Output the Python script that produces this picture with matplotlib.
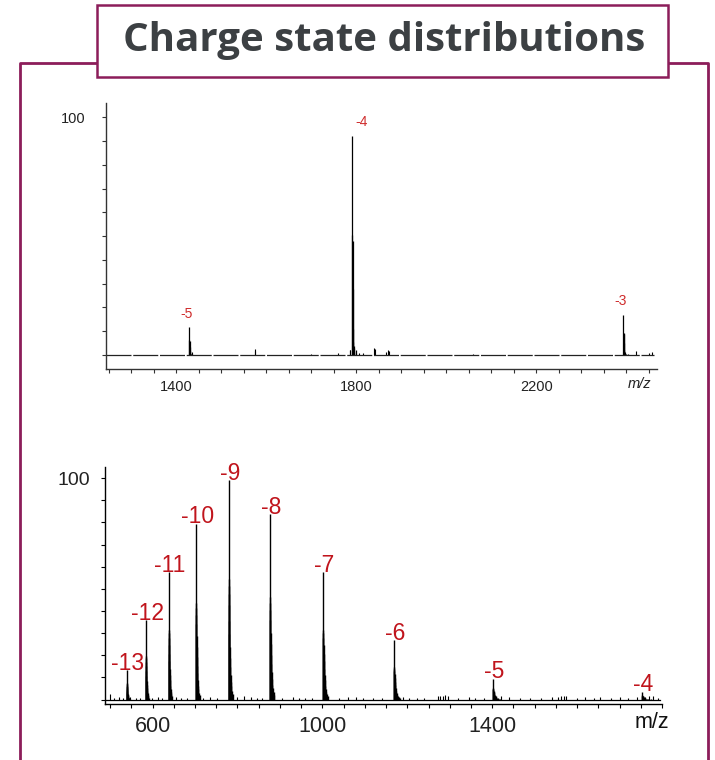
import numpy as np
import matplotlib
matplotlib.use("Agg")
import matplotlib.pyplot as plt
from matplotlib.lines import Line2D
from matplotlib.patches import Rectangle
from matplotlib.ticker import MultipleLocator, FixedLocator

# --- top spectrum (native) ---
top_charges = ["-5", "-4", "-3"]
top_mz = [1429, 1791, 2393]
top_height = [11.5, 92, 16.8]
# satellites next to the main peak (mass shift in Da, fraction of peak height)
top_adduct_da = [0, 2, 3, 4, 6, 8, 12, 20, 30]
top_adduct_frac = [1.0, 0.55, 0.52, 0.3, 0.12, 0.06, 0.04, 0.03, 0.02]
# small extra features
top_noise_mz = [1434, 1574, 1576, 1700, 1760, 1785, 1787, 1795, 1800, 1806, 1815,
                1840, 1842, 1866, 1870, 1872, 2060, 2398, 2422, 2450, 2456]
top_noise_h = [1.0, 2.4, 1.5, 0.5, 0.6, 2.2, 2.0, 1.2, 0.8, 0.6, 0.6,
               3.0, 2.5, 1.2, 1.8, 1.5, 0.4, 1.2, 1.5, 0.8, 1.0]

# --- bottom spectrum (denatured) ---
bot_charges = ["-13", "-12", "-11", "-10", "-9", "-8", "-7", "-6", "-5", "-4"]
bot_z = [13, 12, 11, 10, 9, 8, 7, 6, 5, 4]
bot_mz = [539, 584, 638, 702, 779, 876, 1001, 1168, 1401, 1752]
bot_height = [13.2, 35.7, 57.5, 79.3, 99, 83.8, 57.5, 26.7, 9.5, 3.5]
bot_adduct_da = [0, 3, 6, 9, 12, 16, 20, 24, 29, 35, 42, 50, 60, 72, 88]
bot_adduct_frac = [1.0, 0.55, 0.52, 0.48, 0.43, 0.36, 0.3, 0.24, 0.19, 0.15,
                   0.11, 0.08, 0.06, 0.04, 0.025]
bot_noise_mz = [500, 510, 522, 530, 548, 560, 570, 598, 612, 622, 655, 668, 680,
                720, 735, 752, 800, 815, 833, 845, 858, 905, 930, 945, 960, 975,
                1040, 1060, 1079, 1095, 1120, 1140, 1190, 1205, 1222, 1240,
                1272, 1278, 1284, 1290, 1296, 1320, 1345, 1360, 1380, 1420, 1440,
                1465, 1490, 1515, 1540, 1556, 1562, 1568, 1575, 1600, 1619, 1640,
                1655, 1680, 1700, 1720, 1740, 1760, 1770, 1778, 1790]
bot_noise_h = [2.4, 0.8, 1.0, 0.6, 1.2, 0.7, 0.9, 0.8, 1.0, 0.6, 1.1, 0.7, 0.9,
               0.8, 1.0, 0.7, 1.2, 1.5, 1.3, 0.8, 0.9, 0.8, 1.2, 0.6, 0.7, 0.9,
               0.8, 1.0, 1.3, 0.7, 0.8, 0.9, 1.1, 0.8, 0.7, 0.9,
               1.5, 1.8, 1.6, 2.0, 1.4, 0.8, 1.0, 0.7, 0.9, 1.8, 1.2,
               0.9, 0.8, 0.7, 1.0, 1.3, 1.6, 1.4, 1.8, 0.7, 1.3, 0.8,
               1.2, 0.9, 1.0, 0.8, 1.2, 1.0, 1.5, 1.4, 0.9]

frame_col = "#8c1d5a"
red_top = "#cf2b2b"
red_bot = "#c0141c"

plt.rcParams['font.family'] = ['Liberation Sans', 'DejaVu Sans']

fig = plt.figure(figsize=(7.15, 7.6), dpi=100)


def px(x, y):
    # pixel position -> figure fraction
    return x / 715, 1 - y / 760


# outer frame (open at the bottom) and title box
fig.add_artist(Line2D([20 / 715, 20 / 715, 708 / 715, 708 / 715],
                      [0, 1 - 63 / 760, 1 - 63 / 760, 0],
                      color=frame_col, lw=2, transform=fig.transFigure))
fig.add_artist(Rectangle(px(97, 77), 571 / 715, 72 / 760, transform=fig.transFigure,
                         facecolor="white", edgecolor=frame_col, lw=1.8, zorder=5))
fig.text(384 / 715, 1 - 41 / 760, "Charge state distributions", ha="center", va="center",
         fontsize=29, fontweight="bold", color="#3c4043", family="Open Sans", zorder=6)


def draw_peaks(ax, mzs, heights, zs, add_da, add_frac, lw):
    xs, hs = [], []
    for m, h, z in zip(mzs, heights, zs):
        for d, f in zip(add_da, add_frac):
            xs.append(m + d / z)
            hs.append(h * f)
    ax.vlines(xs, 0, hs, color="black", lw=lw)


def style_axes(ax, xlim, ylim, xlabels, label_size, ycol):
    ax.set_xlim(*xlim)
    ax.set_ylim(*ylim)
    for s in ["top", "right"]:
        ax.spines[s].set_visible(False)
    for s in ["left", "bottom"]:
        ax.spines[s].set_color(ycol)
        ax.spines[s].set_linewidth(1.0)
    ax.xaxis.set_major_locator(FixedLocator(xlabels))
    ax.xaxis.set_minor_locator(MultipleLocator(50))
    ax.yaxis.set_major_locator(FixedLocator([100]))
    ax.yaxis.set_minor_locator(MultipleLocator(10))
    ax.tick_params(which="both", direction="out", color=ycol, width=0.8)
    ax.tick_params(which="major", length=3, labelsize=label_size, labelcolor="#222222")
    ax.tick_params(which="minor", length=3)
    ax.patch.set_alpha(0)


# ---- top panel ----
ax1 = fig.add_axes([106 / 715, 1 - 369 / 760, 551 / 715, 266 / 760])
top_z = [5, 4, 3]
draw_peaks(ax1, top_mz, top_height, top_z, top_adduct_da, top_adduct_frac, 0.9)
ax1.vlines(top_noise_mz, 0, top_noise_h, color="black", lw=0.8)
ax1.plot([1244, 2462], [0, 0], color="#222222", lw=0.9, dashes=(20, 1.4))
style_axes(ax1, (1244, 2468), (-6, 106), [1400, 1800, 2200], 10.5, "#333333")
ax1.tick_params(axis="x", which="major", pad=5)
ax1.tick_params(axis="y", which="major", pad=12)
ax1.text(2430, -12.5, "m/z", transform=ax1.transData, ha="center", va="center",
         fontsize=10.5, style="italic", color="#222222")
top_dx = [-2, 6.5, -2]
for lab, m, h, dx in zip(top_charges, top_mz, top_height, top_dx):
    ax1.annotate(lab, (m, h), xytext=(dx, 10), textcoords="offset points",
                 ha="center", va="center", fontsize=10, color=red_top)

# ---- bottom panel ----
ax2 = fig.add_axes([105 / 715, 1 - 704 / 760, 557 / 715, 237 / 760])
draw_peaks(ax2, bot_mz, bot_height, bot_z, bot_adduct_da, bot_adduct_frac, 1.0)
ax2.vlines(bot_noise_mz, 0, bot_noise_h, color="black", lw=0.8)
ax2.plot([488, 1795], [0, 0], color="black", lw=0.9)
style_axes(ax2, (488, 1800), (-2, 105), [600, 1000, 1400], 15.5, "black")
ax2.tick_params(axis="x", which="major", pad=6)
ax2.tick_params(axis="y", which="major", pad=8, labelsize=14)
ax2.text(1776, -10.2, "m/z", transform=ax2.transData, ha="center", va="center",
         fontsize=15.5, color="#111111")
for lab, m, h in zip(bot_charges, bot_mz, bot_height):
    ax2.annotate(lab, (m, h), xytext=(1, 5), textcoords="offset points",
                 ha="center", va="center", fontsize=16.5, color=red_bot)

fig.savefig("out.png", dpi=100)
